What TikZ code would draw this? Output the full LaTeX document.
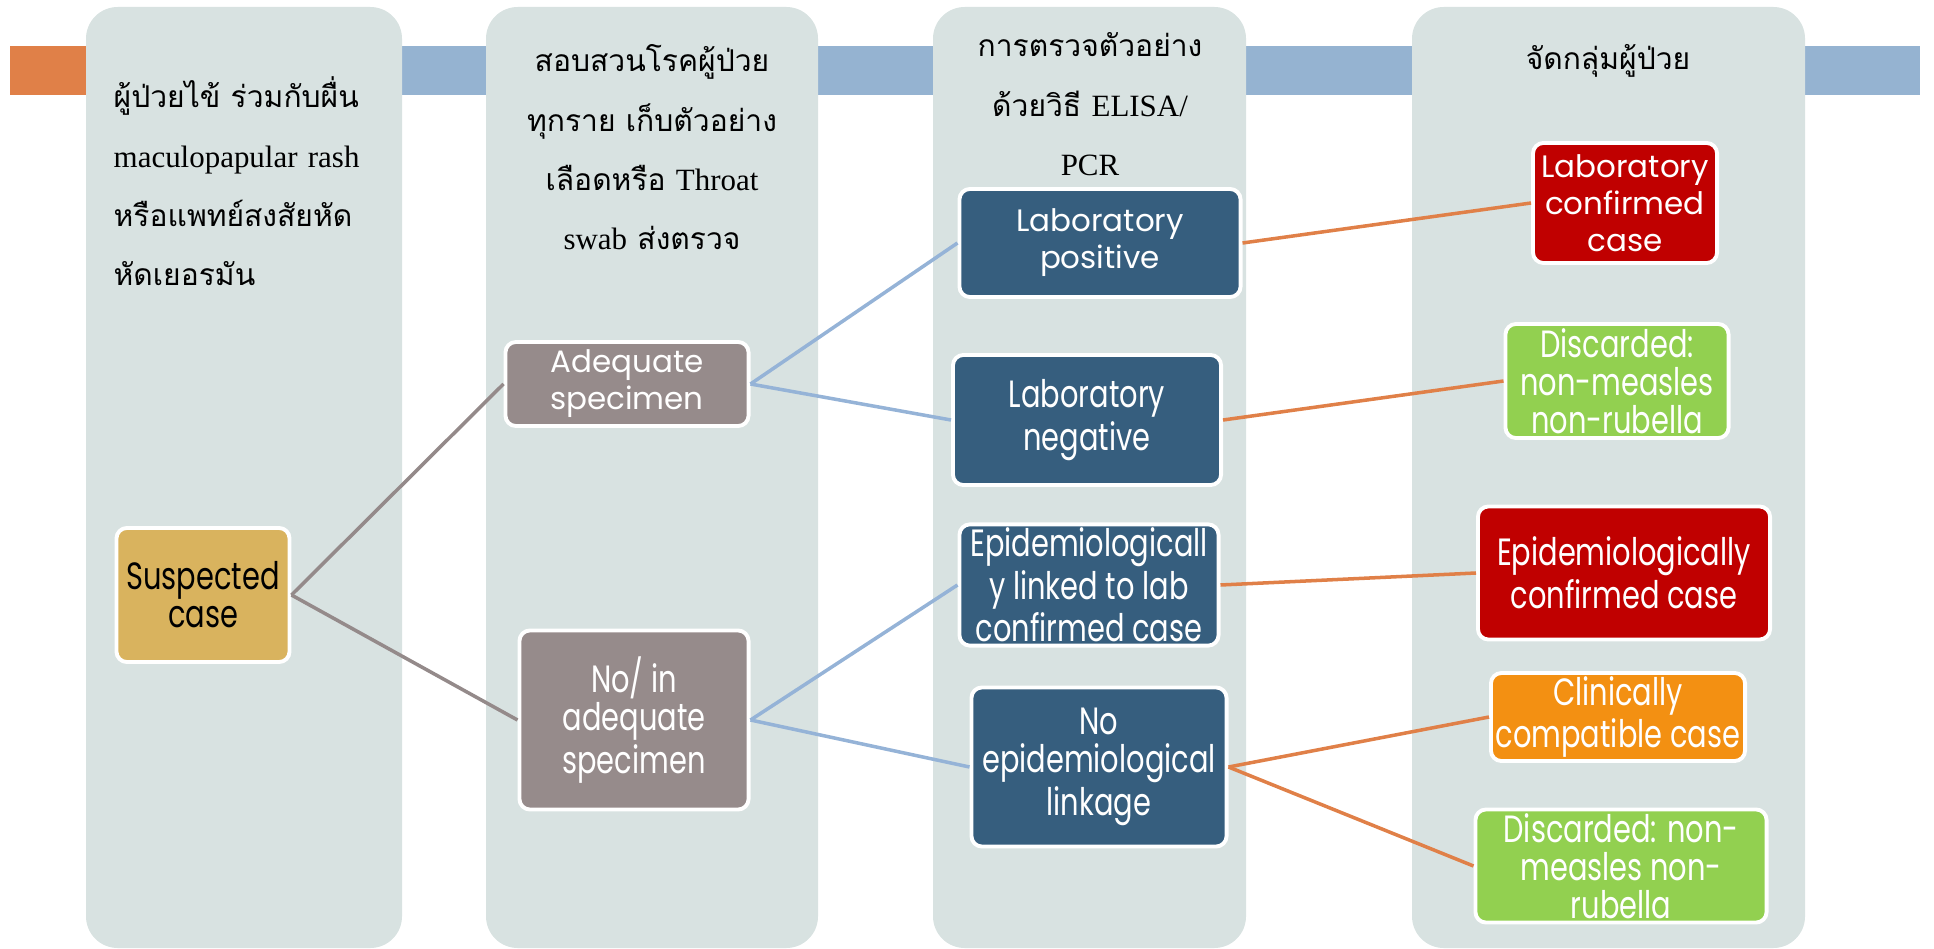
\documentclass[tikz,border=0pt]{standalone}
\usepackage{fontspec}
\setmainfont{Liberation Serif}
\newfontfamily\thaifont[Script=Thai,Scale=0.97]{Loma}
\newfontfamily\boxfont{Poppins}
\newfontfamily\narrowfont[FakeStretch=0.76]{Poppins}
\newcommand{\thaitxt}[1]{{\thaifont #1}}
\definecolor{panelgray}{RGB}{216,226,225}
\definecolor{barorange}{RGB}{224,128,72}
\definecolor{barblue}{RGB}{149,179,209}
\definecolor{suspgold}{RGB}{217,179,94}
\definecolor{specgray}{RGB}{150,139,139}
\definecolor{labblue}{RGB}{54,94,126}
\definecolor{confred}{RGB}{192,0,0}
\definecolor{discgreen}{RGB}{146,208,80}
\definecolor{clinorange}{RGB}{243,144,18}
\definecolor{linegray}{RGB}{148,138,138}
\definecolor{lineblue}{RGB}{149,179,215}
\definecolor{lineorange}{RGB}{224,128,72}
\usepackage{tikz}

\begin{document}
\begin{tikzpicture}[
                x=0.01cm,y=-0.01cm,
                panel/.style={fill=panelgray,rounded corners=9pt},
                head/.style={inner sep=0pt,font=\fontsize{8.8}{16.8}\selectfont},
                box/.style={draw=white,line width=1.1pt,rounded corners=3pt,align=center,text=white,inner sep=1pt},
                wide/.style={box,font=\boxfont\fontsize{8.8}{10.5}\selectfont},
                narrow/.style={box,font=\narrowfont\fontsize{10.8}{10.8}\selectfont},
                link/.style={line width=1pt}
            ]
                \useasboundingbox (0,0) rectangle (1934,949);
                % bars behind the columns
                \fill[barorange] (10,46) rectangle (86,95);
                \fill[barblue] (86,46) rectangle (1920,95);
                \fill[panel] (86,7) rectangle (402,948);
                \fill[panel] (486,7) rectangle (818,948);
                \fill[panel] (933,7) rectangle (1246,948);
                \fill[panel] (1412,7) rectangle (1805,948);
                % column headings
                \node[head,anchor=base west,text width=2.9cm,align=left] (h1) at (113,108)
                    {\thaitxt{ผู้ป่วยไข้ ร่วมกับผื่น}\\maculopapular rash\\\thaitxt{หรือแพทย์สงสัยหัด}\\\thaitxt{หัดเยอรมัน}};
                \node[head,anchor=base,text width=3.2cm,align=center] (h2) at (652,72)
                    {\thaitxt{สอบสวนโรคผู้ป่วย}\\\thaitxt{ทุกราย เก็บตัวอย่าง}\\\thaitxt{เลือดหรือ} Throat\\swab \thaitxt{ส่งตรวจ}};
                \node[head,anchor=base,text width=3cm,align=center] (h3) at (1090,57)
                    {\thaitxt{การตรวจตัวอย่าง}\\\thaitxt{ด้วยวิธี} ELISA/\\PCR};
                \node[head,anchor=base,text width=3cm,align=center] (h4) at (1608,70)
                    {\thaitxt{จัดกลุ่มผู้ป่วย}};
                % boxes
                \node[narrow,fill=suspgold,text=black,minimum width=1.73cm,minimum height=1.34cm] (susp) at (203,595) {Suspected\\case};
                \node[wide,fill=specgray,minimum width=2.43cm,minimum height=0.84cm] (adeq) at (627,384) {Adequate\\specimen};
                \node[narrow,fill=specgray,minimum width=2.29cm,minimum height=1.79cm] (inadeq) at (634,720) {No/ in\\adequate\\specimen};
                \node[wide,fill=labblue,minimum width=2.81cm,minimum height=1.08cm] (labpos) at (1100,243) {Laboratory\\positive};
                \node[narrow,fill=labblue,minimum width=2.68cm,minimum height=1.30cm] (labneg) at (1087,420) {Laboratory\\negative};
                \node[narrow,fill=labblue,minimum width=2.59cm,minimum height=1.21cm] (epilink) at (1089,585) {Epidemiologicall\\y linked to lab\\confirmed case};
                \node[narrow,fill=labblue,minimum width=2.55cm,minimum height=1.59cm] (noepi) at (1099,767) {No\\epidemiological\\linkage};
                \node[wide,fill=confred,minimum width=1.84cm,minimum height=1.20cm] (labconf) at (1625,203) {Laboratory\\confirmed\\case};
                \node[narrow,fill=discgreen,minimum width=2.23cm,minimum height=1.14cm] (disc) at (1617,381) {Discarded:\\non-measles\\non-rubella};
                \node[narrow,fill=confred,minimum width=2.92cm,minimum height=1.33cm] (epiconf) at (1624,573) {Epidemiologically\\confirmed case};
                \node[narrow,fill=clinorange,minimum width=2.54cm,minimum height=0.88cm] (clin) at (1618,717) {Clinically\\compatible case};
                \node[narrow,fill=discgreen,minimum width=2.91cm,minimum height=1.13cm] (discb) at (1621,866) {Discarded: non-\\measles non-\\rubella};
                % connectors
                \draw[link,linegray] (susp.east) -- (adeq.west);
                \draw[link,linegray] (susp.east) -- (inadeq.west);
                \draw[link,lineblue] (adeq.east) -- (labpos.west);
                \draw[link,lineblue] (adeq.east) -- (labneg.west);
                \draw[link,lineblue] (inadeq.east) -- (epilink.west);
                \draw[link,lineblue] (inadeq.east) -- (noepi.west);
                \draw[link,lineorange] (labpos.east) -- (labconf.west);
                \draw[link,lineorange] (labneg.east) -- (disc.west);
                \draw[link,lineorange] (epilink.east) -- (epiconf.west);
                \draw[link,lineorange] (noepi.east) -- (clin.west);
                \draw[link,lineorange] (noepi.east) -- (discb.west);
            \end{tikzpicture}
\end{document}
